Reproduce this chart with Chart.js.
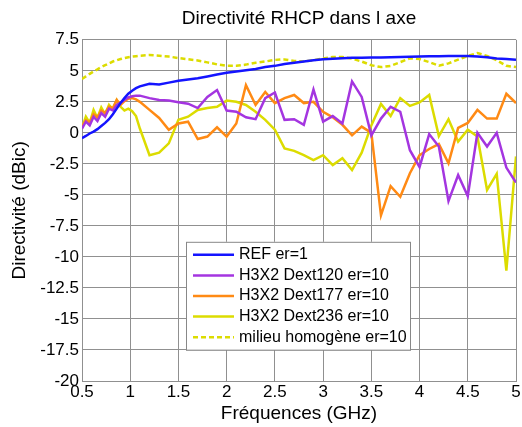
<!DOCTYPE html>
<html lang="fr">
<head>
  <meta charset="UTF-8">
  <title>Directivité RHCP dans l axe</title>
  <script src="https://cdn.jsdelivr.net/npm/chart.js"></script>
  <style>
    html, body { margin: 0; padding: 0; background: #fff; }
    canvas { display: block; }
  </style>
</head>
<body>
  <canvas id="chart" width="522" height="427"></canvas>

  <script>
    // frequencies (GHz): finer step at the low end, then 0.1 GHz
    const freq = [0.5, 0.54, 0.58, 0.62, 0.66, 0.7, 0.74, 0.78, 0.82, 0.86, 0.9, 0.94, 0.98, 1.02, 1.06, 1.1,
      1.2, 1.3, 1.4, 1.5, 1.6, 1.7, 1.8, 1.9, 2.0, 2.1, 2.2, 2.3, 2.4, 2.5, 2.6, 2.7, 2.8, 2.9, 3.0,
      3.1, 3.2, 3.3, 3.4, 3.5, 3.6, 3.7, 3.8, 3.9, 4.0, 4.1, 4.2, 4.3, 4.4, 4.5, 4.6, 4.7, 4.8, 4.9, 5.0];

    const seriesNames = ['REF er=1', 'H3X2 Dext120 er=10', 'H3X2 Dext177 er=10', 'H3X2 Dext236 er=10', 'milieu homogène er=10'];

    const ref = [-0.43, -0.25, -0.05, 0.1, 0.3, 0.55, 0.8, 1.1, 1.5, 1.95, 2.4, 2.8, 3.15, 3.4, 3.6, 3.75,
      3.95, 3.9, 4.05, 4.2, 4.3, 4.4, 4.55, 4.7, 4.85, 4.95, 5.05, 5.15, 5.3, 5.4, 5.55, 5.65, 5.75, 5.85, 5.93,
      5.98, 6.02, 6.05, 6.05, 6.07, 6.08, 6.1, 6.12, 6.13, 6.15, 6.17, 6.18, 6.2, 6.2, 6.2, 6.15, 6.1, 6.0, 5.95, 5.9];

    const dext120 = [0.35, 0.9, 0.6, 1.3, 0.95, 1.6, 1.3, 1.95, 1.8, 2.25, 2.45, 2.65, 2.85, 2.95, 3.0, 3.0,
      2.8, 2.65, 2.6, 2.47, 2.35, 2.0, 2.9, 3.45, 1.8, 1.7, 1.25, 1.1, 2.8, 3.25, 1.05, 1.1, 0.65, 3.5, 0.9,
      1.35, 0.75, 4.15, 2.9, -0.2, 1.15, 2.1, 1.7, -1.4, -2.75, -0.1, -1.1, -5.5, -3.4, -5.1, 0.0, -1.1, 0.0, -2.8, -4.0];

    const dext177 = [0.5, 1.0, 0.85, 1.5, 1.25, 1.8, 1.6, 2.1, 2.0, 2.65, 2.25, 2.55, 2.75, 2.8, 2.7, 2.5,
      1.85, 1.2, 0.25, 0.75, 0.9, -0.5, -0.3, 0.45, -0.3, 0.75, 3.85, 2.25, 3.3, 2.4, 2.8, 3.05, 2.4, 2.5, 1.7,
      1.25, 0.65, -0.2, 0.5, 0.0, -6.65, -4.3, -5.15, -3.25, -1.8, -1.3, -0.9, -2.45, 0.4, 0.8, 1.85, 1.15, 1.15, 3.15, 2.4];

    const dext236 = [0.4, 1.3, 0.8, 1.85, 1.2, 2.05, 1.5, 2.25, 1.9, 2.65, 2.1, 1.8, 1.95, 1.75, 1.35, 0.35,
      -1.8, -1.6, -0.85, 1.05, 1.3, 1.85, 2.0, 2.1, 2.6, 2.5, 2.25, 1.7, 1.05, 0.25, -1.25, -1.45, -1.8, -2.2, -1.8,
      -2.6, -2.05, -3.0, -1.6, 0.6, 2.33, 1.36, 2.8, 2.17, 2.45, 3.05, -0.26, 1.1, -0.7, 0.25, -0.3, -4.6, -3.3, -11.1, -1.9];

    const homogene = [4.35, 4.55, 4.75, 4.95, 5.12, 5.3, 5.45, 5.6, 5.75, 5.85, 5.95, 6.03, 6.1, 6.14, 6.18, 6.22,
      6.27, 6.22, 6.15, 6.03, 5.93, 5.83, 5.68, 5.52, 5.4, 5.4, 5.5, 5.65, 5.75, 5.88, 5.92, 5.8, 5.75, 5.85, 6.0,
      6.12, 6.12, 5.98, 5.75, 5.45, 5.3, 5.4, 5.7, 6.0, 5.95, 5.7, 5.42, 5.6, 5.9, 6.2, 6.43, 6.2, 5.85, 5.4, 5.3];

    const xTicks = [0.5, 1, 1.5, 2, 2.5, 3, 3.5, 4, 4.5, 5];
    const yTicks = [-20, -17.5, -15, -12.5, -10, -7.5, -5, -2.5, 0, 2.5, 5, 7.5];

    const FONT = 'Arial, "Liberation Sans", sans-serif';
    const GRID = '#909090';

    function pts(values) {
      return freq.map((f, i) => ({ x: f, y: values[i] }));
    }

    // legend drawn as a boxed table inside the plot area
    const boxLegend = {
      id: 'boxLegend',
      afterDatasetsDraw(chart) {
        const { ctx, chartArea: a } = chart;
        const x0 = a.left + 104, y0 = a.top + 202, w = 224, h = 108, row = 20.6;
        ctx.save();
        ctx.fillStyle = '#fff';
        ctx.fillRect(x0, y0, w, h);
        ctx.strokeStyle = '#888';
        ctx.lineWidth = 1;
        ctx.strokeRect(x0 + 0.5, y0 + 0.5, w, h);
        ctx.font = '16px ' + FONT;
        ctx.textBaseline = 'middle';
        chart.data.datasets.forEach((ds, i) => {
          const y = y0 + 13 + i * row;
          ctx.strokeStyle = ds.borderColor;
          ctx.lineWidth = ds.borderWidth;
          ctx.setLineDash(ds.borderDash || []);
          ctx.beginPath();
          ctx.moveTo(x0 + 7, y);
          ctx.lineTo(x0 + 48, y);
          ctx.stroke();
          ctx.setLineDash([]);
          ctx.fillStyle = '#000';
          ctx.fillText(ds.label, x0 + 53, y);
        });
        ctx.restore();
      }
    };

    const colors = ['#1414ff', '#a435e0', '#ff8a14', '#dcdc00', '#dcdc00'];
    const values = [ref, dext120, dext177, dext236, homogene];

    new Chart(document.getElementById('chart'), {
      type: 'line',
      data: {
        datasets: values.map((v, i) => ({
          label: seriesNames[i],
          data: pts(v),
          borderColor: colors[i],
          borderWidth: 2.5,
          borderDash: i === 4 ? [5, 3] : undefined,
          pointRadius: 0,
          tension: 0,
          fill: false
        }))
      },
      options: {
        responsive: false,
        animation: false,
        devicePixelRatio: 1,
        layout: { padding: { left: 0, right: 6, top: 0, bottom: 0 } },
        plugins: {
          legend: { display: false },
          tooltip: { enabled: false },
          title: {
            display: true,
            fullSize: false,
            text: 'Directivité RHCP dans l axe',
            color: '#000',
            font: { family: FONT, size: 19, weight: 'normal' },
            padding: { top: 7, bottom: 10 }
          }
        },
        scales: {
          x: {
            type: 'linear',
            min: 0.5,
            max: 5,
            afterBuildTicks: s => { s.ticks = xTicks.map(v => ({ value: v })); },
            afterFit: s => { s.height = 46; },
            grid: { color: GRID, drawTicks: false },
            border: { color: GRID },
            ticks: {
              color: '#000', padding: 1, maxRotation: 0,
              font: { family: FONT, size: 17 },
              callback: v => String(v)
            },
            title: {
              display: true,
              text: 'Fréquences (GHz)',
              color: '#000',
              font: { family: FONT, size: 19 },
              padding: { top: 0, bottom: 2 }
            }
          },
          y: {
            min: -20,
            max: 7.5,
            afterBuildTicks: s => { s.ticks = yTicks.map(v => ({ value: v })); },
            afterFit: s => { s.width = 82; },
            grid: { color: GRID, drawTicks: false },
            border: { color: GRID },
            ticks: {
              color: '#000', padding: 3,
              font: { family: FONT, size: 17 },
              callback: v => String(v)
            },
            title: {
              display: true,
              text: 'Directivité (dBic)',
              color: '#000',
              font: { family: FONT, size: 19 },
              padding: { top: 8, bottom: 0 }
            }
          }
        }
      },
      plugins: [boxLegend]
    });
  </script>
</body>
</html>
